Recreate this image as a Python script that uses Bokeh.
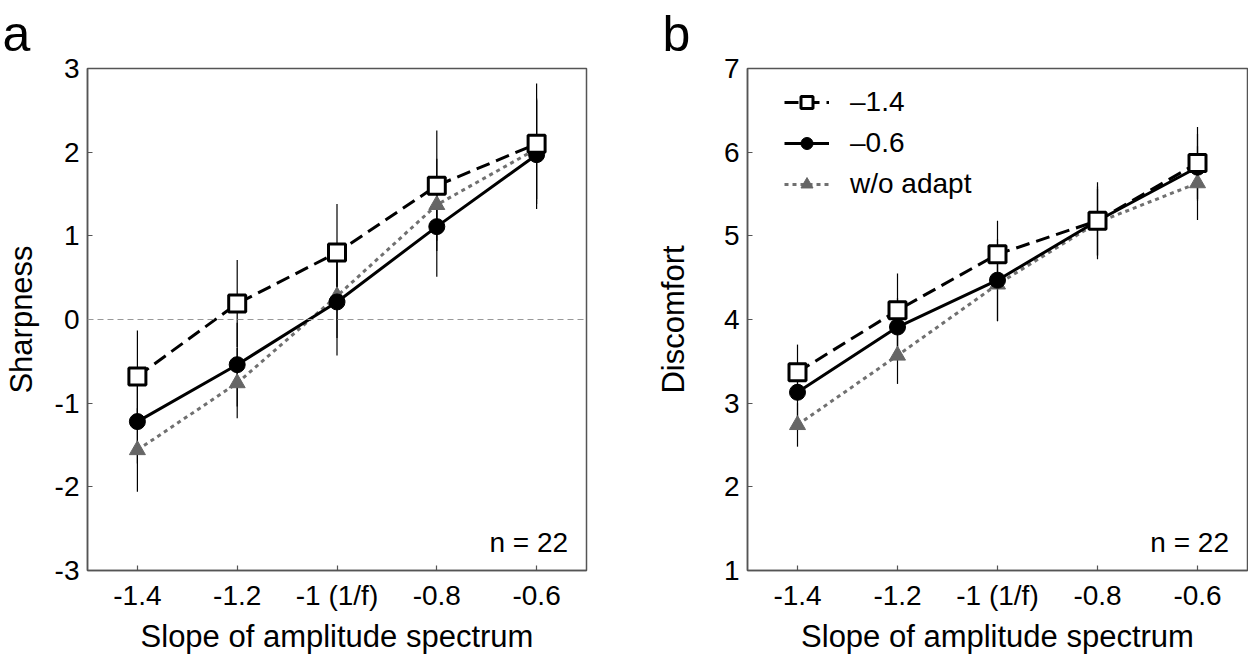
from bokeh.plotting import figure
from bokeh.layouts import row
from bokeh.models import Range1d, FixedTicker, Label, Legend, LegendItem, Span
from bokeh.embed import file_html
from bokeh.resources import INLINE

FONT = "Liberation Sans"

slopes = [-1.4, -1.2, -1.0, -0.8, -0.6]
x_tick_labels = ["-1.4", "-1.2", "-1 (1/f)", "-0.8", "-0.6"]
legend_labels = ["\u20131.4", "\u20130.6", "w/o adapt"]

# Panel a: Sharpness
sharp_ticks = [-3, -2, -1, 0, 1, 2, 3]
sharp_tick_labels = ["-3", "-2", "-1", "0", "1", "2", "3"]
sharp_adapt14 = [-0.68, 0.19, 0.80, 1.60, 2.10]
sharp_adapt06 = [-1.22, -0.54, 0.21, 1.11, 1.97]
sharp_noadapt = [-1.56, -0.76, 0.28, 1.37, 2.04]
sharp_err14 = [0.55, 0.52, 0.58, 0.66, 0.72]
sharp_err06 = [0.50, 0.50, 0.64, 0.60, 0.65]
sharp_errno = [0.50, 0.42, 0.50, 0.55, 0.60]

# Panel b: Discomfort
disc_ticks = [1, 2, 3, 4, 5, 6, 7]
disc_tick_labels = ["1", "2", "3", "4", "5", "6", "7"]
disc_adapt14 = [3.37, 4.11, 4.78, 5.18, 5.87]
disc_adapt06 = [3.13, 3.91, 4.47, 5.18, 5.82]
disc_noadapt = [2.74, 3.57, 4.42, 5.16, 5.63]
disc_err14 = [0.33, 0.44, 0.40, 0.46, 0.43]
disc_err06 = [0.30, 0.35, 0.49, 0.41, 0.40]
disc_errno = [0.26, 0.34, 0.44, 0.40, 0.44]

AX = "#555555"


def make_panel(letter, letter_offset, frame_w, ylabel, ylabel_standoff, yr, yticks,
               ytick_labels, s14, s06, sno, e14, e06, eno,
               left_border, right_border, legend=False, zero=False):
    p = figure(frame_width=frame_w, frame_height=502,
               x_range=Range1d(-1.5, -0.5), y_range=Range1d(*yr),
               output_backend="svg", toolbar_location=None,
               min_border_left=left_border, min_border_right=right_border,
               min_border_top=61, min_border_bottom=85)
    p.grid.visible = False
    p.outline_line_color = AX
    p.outline_line_width = 1.5
    p.background_fill_color = "white"
    p.border_fill_color = "white"

    p.title.text = letter
    p.title.text_font = FONT
    p.title.text_font_size = "50px"
    p.title.text_font_style = "normal"
    p.title.text_color = "black"
    p.title.align = "left"
    p.title.vertical_align = "top"
    p.title.offset = letter_offset
    p.title.standoff = 10

    p.xaxis.ticker = FixedTicker(ticks=slopes)
    p.xaxis.major_label_overrides = {s: l for s, l in zip(slopes, x_tick_labels)}
    p.yaxis.ticker = FixedTicker(ticks=yticks)
    p.yaxis.major_label_overrides = {t: l for t, l in zip(yticks, ytick_labels)}
    for ax in (p.xaxis, p.yaxis):
        ax.axis_line_color = AX
        ax.axis_line_width = 1.5
        ax.major_tick_line_color = AX
        ax.major_tick_line_width = 1.2
        ax.major_tick_in = 5
        ax.major_tick_out = 0
        ax.minor_tick_line_color = None
        ax.major_label_text_font = FONT
        ax.major_label_text_font_size = "28px"
        ax.major_label_text_color = "black"
        ax.axis_label_text_font = FONT
        ax.axis_label_text_font_size = "31px"
        ax.axis_label_text_font_style = "normal"
        ax.axis_label_text_color = "black"
    p.xaxis.axis_label = "Slope of amplitude spectrum"
    p.xaxis.major_label_standoff = 9
    p.xaxis.axis_label_standoff = 5
    p.yaxis.axis_label = ylabel
    p.yaxis.major_label_standoff = 8
    p.yaxis.axis_label_standoff = ylabel_standoff

    if zero:
        p.add_layout(Span(location=0, dimension="width", line_color="#999999",
                          line_width=1, line_dash="6 4"))

    # error bars
    for vals, errs in ((s14, e14), (s06, e06), (sno, eno)):
        p.segment(x0=slopes, x1=slopes,
                  y0=[v - e for v, e in zip(vals, errs)],
                  y1=[v + e for v, e in zip(vals, errs)],
                  line_color="black", line_width=1.2)

    l_no = p.line(slopes, sno, line_color="#707070", line_width=3, line_dash="4 4")
    l_06 = p.line(slopes, s06, line_color="black", line_width=3)
    l_14 = p.line(slopes, s14, line_color="black", line_width=3, line_dash="14 7")
    m_no = p.scatter(slopes, sno, marker="triangle", size=16,
                     fill_color="#666666", line_color="#666666")
    m_06 = p.scatter(slopes, s06, marker="circle", size=16,
                     fill_color="black", line_color="black")
    m_14 = p.scatter(slopes, s14, marker="square", size=17,
                     fill_color="white", line_color="black", line_width=3)

    # n label
    p.add_layout(Label(x=-0.537, y=yr[0] + 28 / 83.67, text="n = 22",
                       text_font=FONT, text_font_size="28px",
                       text_color="black", text_align="right",
                       text_baseline="alphabetic"))

    if legend:
        items = [LegendItem(label=legend_labels[0], renderers=[l_14, m_14]),
                 LegendItem(label=legend_labels[1], renderers=[l_06, m_06]),
                 LegendItem(label=legend_labels[2], renderers=[l_no, m_no])]
        lg = Legend(items=items, location=(37, 370), padding=0, margin=0,
                    spacing=9, glyph_width=45, glyph_height=30,
                    label_height=30, label_standoff=21,
                    label_text_font=FONT, label_text_font_size="28px",
                    label_text_color="black",
                    background_fill_alpha=0, border_line_color=None)
        p.add_layout(lg)
    return p


pa = make_panel("a", -85, 499, "Sharpness", 13, (-3, 3), sharp_ticks, sharp_tick_labels,
                sharp_adapt14, sharp_adapt06, sharp_noadapt,
                sharp_err14, sharp_err06, sharp_errno,
                left_border=80, right_border=60, zero=True)
pb = make_panel("b", -85, 500, "Discomfort", 30, (1, 7), disc_ticks, disc_tick_labels,
                disc_adapt14, disc_adapt06, disc_noadapt,
                disc_err14, disc_err06, disc_errno,
                left_border=101, right_border=1, legend=True)

layout = row(pa, pb, spacing=0)
open("out.html", "w").write(file_html(layout, INLINE))
